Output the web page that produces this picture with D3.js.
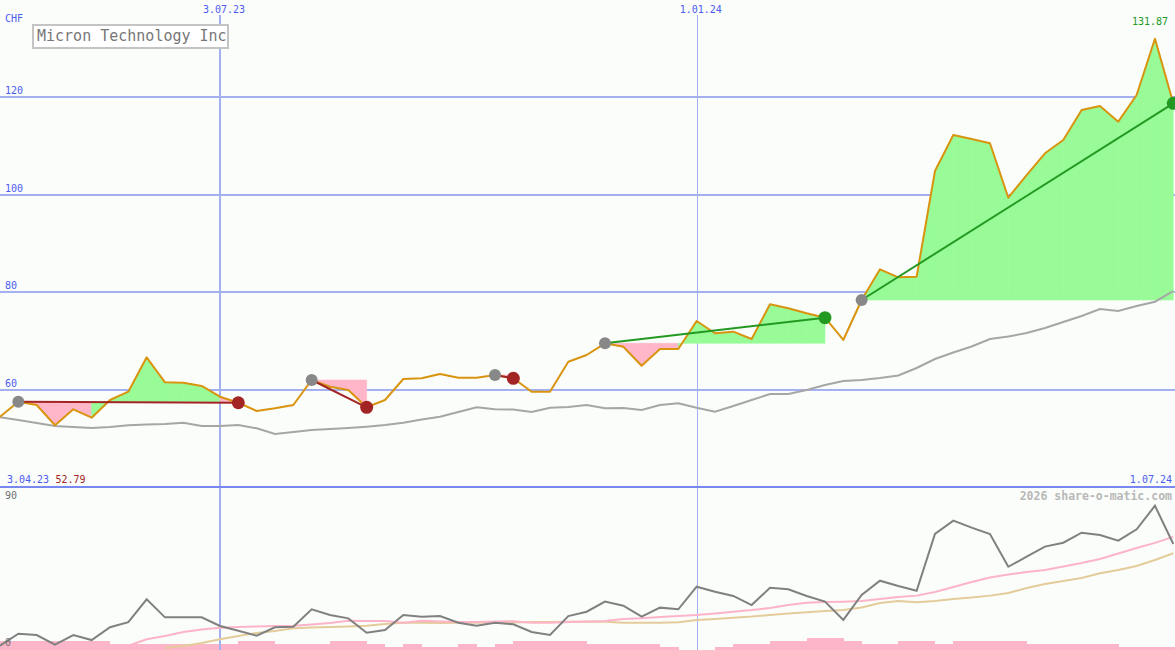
<!DOCTYPE html>
<html>
<head>
<meta charset="utf-8">
<script src="https://cdn.jsdelivr.net/npm/d3@7"></script>
<style>
  html, body { margin: 0; padding: 0; background: #fbfdfb; }
  svg { display: block; }
  text { font-family: "DejaVu Sans Mono", monospace; }
</style>
</head>
<body>
<svg id="chart" width="1175" height="650"></svg>
<script>
// ---------- data ----------
const title = "Micron Technology Inc";
const currency = "CHF";
const weekCount = 65; // weekly points, index 0 .. 64
const priceTicks = [60, 80, 100, 120];
const dateTickIndex = [12, 38];
const dateTickLabels = ["3.07.23", "1.01.24"];
const firstDateLabel = "3.04.23";
const lastDateLabel = "1.07.24";
const minLabel = "52.79";
const maxLabel = "131.87";
const lowerTickLabels = ["90", "0"];
const credit = "2026 share-o-matic.com";

const price = [54.55, 57.61, 56.94, 52.79, 56.06, 54.34, 57.96, 59.66, 66.70, 61.58,
  61.50, 60.83, 58.64, 57.40, 55.71, 56.26, 56.94, 62.05, 60.68, 60.01,
  56.47, 57.96, 62.26, 62.40, 63.28, 62.52, 62.52, 63.08, 62.40, 59.66,
  59.66, 65.80, 67.17, 69.56, 68.87, 64.98, 68.40, 68.40, 74.12, 71.61,
  71.94, 70.44, 77.54, 76.72, 75.70, 74.80, 70.24, 78.42, 84.70, 83.06,
  83.19, 104.81, 112.18, 111.36, 110.48, 99.35, 103.99, 108.43, 111.15, 117.29,
  118.11, 114.90, 120.36, 131.87, 118.66];

const avgLine = [54.42, 53.87, 53.26, 52.64, 52.44, 52.23, 52.44, 52.79, 52.95, 53.05,
  53.32, 52.64, 52.64, 52.85, 52.17, 51.01, 51.42, 51.82, 52.03, 52.23,
  52.50, 52.85, 53.32, 53.97, 54.55, 55.51, 56.47, 56.06, 56.02, 55.51,
  56.39, 56.53, 56.94, 56.26, 56.33, 55.92, 56.94, 57.29, 56.39, 55.57,
  56.73, 57.96, 59.19, 59.19, 60.01, 61.03, 61.85, 62.05, 62.46, 62.97,
  64.51, 66.35, 67.68, 68.91, 70.44, 70.95, 71.67, 72.69, 73.92, 75.15,
  76.58, 76.17, 77.19, 78.07, 80.26];

// trend signals: start index, end index
const sigStart = [1, 17, 27, 33, 47];
const sigEnd = [13, 20, 28, 45, 64];

// lower panel
const lowerGray = [2.0, 9.4, 8.6, 2.7, 8.6, 5.5, 13.4, 16.5, 30.6, 19.5,
  19.5, 19.5, 14.2, 11.3, 8.2, 13.4, 13.7, 24.5, 21.0, 18.9,
  10.0, 11.7, 21.0, 19.9, 20.3, 16.2, 14.4, 16.2, 15.2, 10.5,
  8.6, 20.3, 23.0, 29.2, 26.7, 19.9, 25.5, 24.5, 38.4, 35.3,
  32.7, 27.1, 37.7, 36.8, 32.7, 29.2, 17.9, 33.3, 42.1, 38.8,
  35.9, 70.9, 79.1, 74.8, 70.9, 50.7, 56.9, 63.1, 65.5, 71.7,
  70.3, 66.8, 73.8, 88.3, 64.7];

const lowerPinkStart = 7;
const lowerPink = [2.0, 6.0, 8.0, 10.5, 12.0, 13.1, 13.6, 13.9, 14.2, 14.4,
  15.1, 16.0, 17.4, 17.3, 17.3, 16.2, 17.4, 17.0, 16.6, 16.6,
  17.0, 17.1, 16.2, 16.2, 16.6, 17.0, 17.3, 18.5, 18.9, 19.7,
  20.3, 21.0, 21.9, 23.0, 24.0, 25.3, 27.1, 28.5, 29.0, 29.2,
  29.6, 30.8, 32.1, 32.9, 35.1, 38.2, 41.3, 44.1, 45.9, 47.5,
  48.7, 50.9, 53.0, 55.5, 58.9, 62.3, 65.4, 69.1];

const lowerTanStart = 9;
const lowerTan = [0.6, 1.8, 3.7, 6.0, 8.0, 9.9, 11.1, 12.8, 13.3, 13.6,
  13.9, 14.4, 15.4, 16.2, 16.2, 16.0, 16.2, 16.2, 16.4, 16.4,
  16.6, 16.6, 16.8, 16.8, 16.8, 16.2, 16.2, 16.2, 16.5, 17.9,
  18.5, 19.3, 20.0, 21.0, 21.9, 22.6, 23.4, 24.0, 25.6, 28.4,
  29.6, 28.8, 29.6, 30.8, 31.8, 32.9, 34.5, 37.6, 40.1, 41.9,
  43.8, 46.7, 48.7, 51.2, 54.9, 59.0];

const volume = [3, 3, 3, 3, 3, 3, 2, 2, 2, 2,
  2, 2, 2, 3, 3, 2, 2, 2, 3, 3,
  2, 1, 2, 1, 1, 2, 1, 2, 3, 3,
  3, 3, 2, 2, 2, 2, 1, 0, 0, 1,
  2, 2, 3, 3, 4, 4, 3, 2, 2, 3,
  3, 2, 3, 3, 3, 3, 2, 2, 2, 2,
  2, 1, 1, 1, 1];

// ---------- drawing ----------
const W = 1175, H = 650;
const svg = d3.select("#chart");
svg.append("rect").attr("width", W).attr("height", H).attr("fill", "#fbfdfb");

const x = d3.scaleLinear().domain([0, weekCount - 1]).range([0, 1173.3]);
const y = d3.scaleLinear().domain([40, 140]).range([487.8, -1]);
const yLow = d3.scaleLinear().domain([0, 90]).range([649, 503]);
const yVol = d3.scaleLinear().domain([0, 10]).range([650, 620]);

const gridColor = "#a4b0f2";
const blue = "#4b5cf0";

// volume bars
svg.append("g").selectAll("rect").data(volume).join("rect")
  .attr("x", (d, i) => x(i))
  .attr("width", (d, i) => x(i + 1) - x(i) + 0.5)
  .attr("y", d => yVol(d))
  .attr("height", d => 650 - yVol(d))
  .attr("fill", "#fdb6c9")
  .attr("shape-rendering", "crispEdges");

// horizontal grid
svg.append("g").selectAll("line").data(priceTicks).join("line")
  .attr("x1", 0).attr("x2", W)
  .attr("y1", d => Math.round(y(d))).attr("y2", d => Math.round(y(d)))
  .attr("stroke", gridColor).attr("stroke-width", 2);

// vertical grid
svg.append("g").selectAll("line").data(dateTickIndex).join("line")
  .attr("x1", d => Math.round(x(d)) + (d === 12 ? 0 : 0.5))
  .attr("x2", d => Math.round(x(d)) + (d === 12 ? 0 : 0.5))
  .attr("y1", 15).attr("y2", H)
  .attr("stroke", gridColor).attr("stroke-width", (d, i) => i === 0 ? 2 : 1);

// separator
svg.append("line").attr("x1", 0).attr("x2", W).attr("y1", 487).attr("y2", 487)
  .attr("stroke", "#7888f0").attr("stroke-width", 2);

// signal fills
const fillG = svg.append("g");
sigStart.forEach((s, k) => {
  const e = sigEnd[k];
  const base = price[s];
  for (let i = s; i < e; i++) {
    const pts = [[x(i), y(base)], [x(i), y(price[i])], [x(i + 1), y(price[i + 1])], [x(i + 1), y(base)]];
    fillG.append("path")
      .attr("d", d3.line()(pts) + "Z")
      .attr("fill", price[i + 1] >= base ? "#98fb98" : "#ffb6c8")
      .attr("stroke", price[i + 1] >= base ? "#98fb98" : "#ffb6c8")
      .attr("stroke-width", 0.6);
  }
});

// moving average (main)
svg.append("path").datum(avgLine)
  .attr("d", d3.line().x((d, i) => x(i)).y(d => y(d)))
  .attr("fill", "none").attr("stroke", "#a6a6a6").attr("stroke-width", 2);

// price line
svg.append("path").datum(price)
  .attr("d", d3.line().x((d, i) => x(i)).y(d => y(d)))
  .attr("fill", "none").attr("stroke", "#d9940f").attr("stroke-width", 2)
  .attr("stroke-linejoin", "round");

// signal lines and markers
sigStart.forEach((s, k) => {
  const e = sigEnd[k];
  const up = price[e] >= price[s];
  const col = up ? "#229a22" : "#a32424";
  svg.append("line")
    .attr("x1", x(s)).attr("y1", y(price[s]))
    .attr("x2", x(e)).attr("y2", y(price[e]))
    .attr("stroke", col).attr("stroke-width", 2);
});
sigStart.forEach((s, k) => {
  const e = sigEnd[k];
  const up = price[e] >= price[s];
  svg.append("circle").attr("cx", x(s)).attr("cy", y(price[s])).attr("r", 6).attr("fill", "#888888");
  svg.append("circle").attr("cx", x(e)).attr("cy", y(price[e])).attr("r", 6.5)
    .attr("fill", up ? "#229a22" : "#a32424");
});

// lower panel lines
svg.append("path").datum(lowerTan)
  .attr("d", d3.line().x((d, i) => x(i + lowerTanStart)).y(d => yLow(d)))
  .attr("fill", "none").attr("stroke", "#e4cc9a").attr("stroke-width", 2);
svg.append("path").datum(lowerPink)
  .attr("d", d3.line().x((d, i) => x(i + lowerPinkStart)).y(d => yLow(d)))
  .attr("fill", "none").attr("stroke", "#fdb4c8").attr("stroke-width", 2);
svg.append("path").datum(lowerGray)
  .attr("d", d3.line().x((d, i) => x(i)).y(d => yLow(d)))
  .attr("fill", "none").attr("stroke", "#808080").attr("stroke-width", 2);

// ---------- texts ----------
const fs = "10px";
svg.append("text").attr("x", 5).attr("y", 22).attr("fill", blue).attr("font-size", fs).text(currency);
svg.append("g").selectAll("text").data(priceTicks).join("text")
  .attr("x", 5).attr("y", d => Math.round(y(d)) - 3)
  .attr("fill", blue).attr("font-size", fs).text(d => d);
svg.append("g").selectAll("text").data(dateTickIndex).join("text")
  .attr("x", d => x(d) - 17).attr("y", 13)
  .attr("fill", blue).attr("font-size", fs).text((d, i) => dateTickLabels[i]);

svg.append("text").attr("x", 1168).attr("y", 25).attr("text-anchor", "end")
  .attr("fill", "#229a22").attr("font-size", fs).text(maxLabel);
svg.append("text").attr("x", 7).attr("y", 483).attr("fill", blue).attr("font-size", fs).text(firstDateLabel);
svg.append("text").attr("x", 55.5).attr("y", 483).attr("fill", "#a32424").attr("font-size", fs).text(minLabel);
svg.append("text").attr("x", 1172).attr("y", 483).attr("text-anchor", "end")
  .attr("fill", blue).attr("font-size", fs).text(lastDateLabel);

svg.append("text").attr("x", 5).attr("y", 499).attr("fill", "#707070").attr("font-size", fs).text(lowerTickLabels[0]);
svg.append("text").attr("x", 5).attr("y", 646).attr("fill", "#707070").attr("font-size", fs).text(lowerTickLabels[1]);

svg.append("text").attr("x", 1172).attr("y", 500).attr("text-anchor", "end")
  .attr("fill", "#b8b8b8").attr("font-size", "11.5px").attr("font-weight", "bold").text(credit);

// title box
svg.append("rect").attr("x", 33).attr("y", 25).attr("width", 195).attr("height", 23)
  .attr("fill", "#ffffff").attr("stroke", "#c4c4c4").attr("stroke-width", 2);
svg.append("text").attr("x", 37).attr("y", 41).attr("fill", "#777777").attr("font-size", "15px").text(title);
</script>
</body>
</html>
